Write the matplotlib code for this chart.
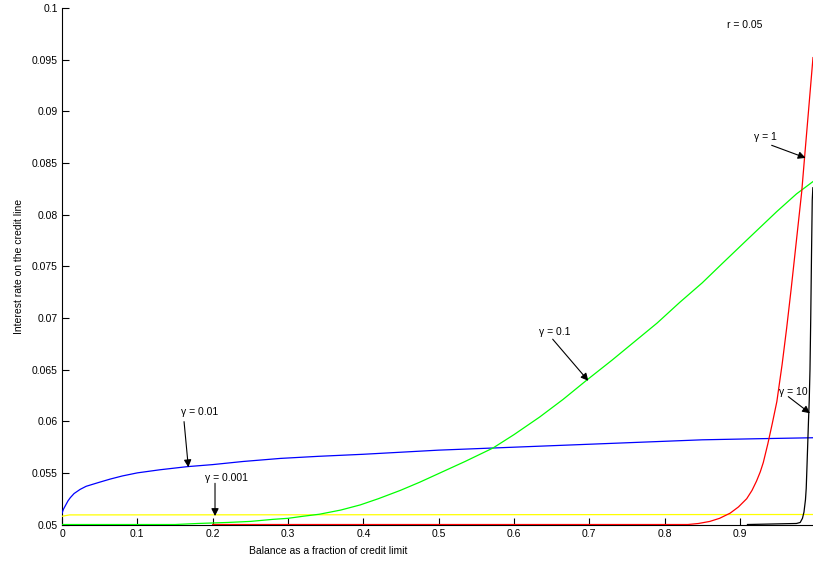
import numpy as np
import matplotlib.pyplot as plt

plt.rcParams['font.family'] = ['Liberation Sans', 'DejaVu Sans']

# --- Data (balance fraction -> interest rate) ---
yellow_x = [0.0, 0.01, 0.5, 0.997]
yellow_y = [0.0508, 0.05093, 0.05095, 0.05097]

# gamma = 0.01
blue_x = [0.0, 0.002, 0.005, 0.008, 0.011, 0.016, 0.024, 0.032, 0.041, 0.05,
          0.064, 0.08, 0.1, 0.13, 0.166, 0.2, 0.24, 0.29, 0.34, 0.4, 0.45,
          0.5, 0.57, 0.64, 0.71, 0.78, 0.85, 0.92, 0.997]
blue_y = [0.0511, 0.0515, 0.0519, 0.0523, 0.0526, 0.0530, 0.0534, 0.0537,
          0.0539, 0.0541, 0.0544, 0.0547, 0.0550, 0.0553, 0.0556, 0.0558,
          0.0561, 0.0564, 0.0566, 0.0568, 0.0570, 0.0572, 0.0574, 0.0576,
          0.0578, 0.0580, 0.0582, 0.0583, 0.0584]

# gamma = 0.1
green_x = [0.0, 0.15, 0.18, 0.22, 0.25, 0.28, 0.30, 0.32, 0.342, 0.37, 0.396,
           0.42, 0.449, 0.475, 0.502, 0.535, 0.572, 0.60, 0.634, 0.665, 0.697,
           0.73, 0.76, 0.79, 0.82, 0.85, 0.877, 0.91, 0.949, 0.975, 0.997]
green_y = [0.0500, 0.0500, 0.0501, 0.0502, 0.0503, 0.0505, 0.0506, 0.0508,
           0.0510, 0.0514, 0.0519, 0.0525, 0.0533, 0.0541, 0.0550, 0.0561,
           0.0574, 0.0587, 0.0604, 0.0621, 0.0640, 0.0659, 0.0677, 0.0695,
           0.0715, 0.0734, 0.0753, 0.0776, 0.0803, 0.0820, 0.0832]

# gamma = 1
red_x = [0.2, 0.831, 0.845, 0.86, 0.873, 0.887, 0.898, 0.909, 0.916, 0.922,
         0.927, 0.931, 0.937, 0.943, 0.949, 0.956, 0.962, 0.968, 0.975, 0.982,
         0.986, 0.991, 0.997]
red_y = [0.0500, 0.0500, 0.0501, 0.0503, 0.0506, 0.0511, 0.0517, 0.0525,
         0.0533, 0.0542, 0.0551, 0.0560, 0.0578, 0.0598, 0.0619, 0.0655,
         0.0690, 0.0728, 0.0775, 0.0822, 0.0857, 0.0900, 0.0952]

# gamma = 10
black_x = [0.91, 0.975, 0.98, 0.983, 0.985, 0.987, 0.988, 0.989, 0.990, 0.991,
           0.992, 0.993, 0.994, 0.995, 0.996, 0.9968]
black_y = [0.0500, 0.0501, 0.0502, 0.0506, 0.0512, 0.0524, 0.0535, 0.0556,
           0.0578, 0.0600, 0.0620, 0.0650, 0.0700, 0.0760, 0.0814, 0.0826]

x_ticks = [0.0, 0.1, 0.2, 0.3, 0.4, 0.5, 0.6, 0.7, 0.8, 0.9]
y_ticks = [0.05, 0.055, 0.06, 0.065, 0.07, 0.075, 0.08, 0.085, 0.09, 0.095, 0.1]

# label text, text position, arrow start, arrow tip
notes = [
    ('\u03b3 = 1',     (0.9333, 0.08755), (0.9421, 0.08671), (0.9872, 0.08549)),
    ('\u03b3 = 0.1',   (0.6544, 0.06865), (0.6514, 0.06794), (0.6987, 0.06391)),
    ('\u03b3 = 0.01',  (0.1825, 0.06093), (0.1620, 0.05996), (0.1677, 0.05554)),
    ('\u03b3 = 0.001', (0.2190, 0.05451), (0.2031, 0.05399), (0.2031, 0.05082)),
    ('\u03b3 = 10',    (0.9710, 0.06284), (0.9642, 0.06238), (0.9930, 0.06077)),
]

fig = plt.figure(figsize=(8.13, 5.64), dpi=100)
ax = fig.add_axes([0.0763, 0.070, 0.9237, 0.9158])

lw = 0.9
ax.plot(yellow_x, yellow_y, color='#ffff00', lw=lw, zorder=3)
ax.plot(blue_x, blue_y, color='#0000ff', lw=lw, zorder=3)
ax.plot(green_x, green_y, color='#00ff00', lw=lw, zorder=3)
ax.plot(red_x, red_y, color='#ff0000', lw=lw, zorder=3)
ax.plot(black_x, black_y, color='k', lw=lw, zorder=3)

ax.set_xlim(0, 0.997)
ax.set_ylim(0.05, 0.1)
ax.set_xticks(x_ticks)
ax.set_yticks(y_ticks)
ax.set_xticklabels(['%g' % v for v in x_ticks])
ax.set_yticklabels(['%g' % v for v in y_ticks])
ax.tick_params(direction='in', length=5, width=0.8, labelsize=7.5, pad=3)

for s in ['top', 'right']:
    ax.spines[s].set_visible(False)
for s in ['left', 'bottom']:
    ax.spines[s].set_linewidth(0.8)

ax.set_xlabel('Balance as a fraction of credit limit', fontsize=7.5, labelpad=2)
ax.xaxis.set_label_coords(0.354, -0.042)
ax.set_ylabel('Interest rate on the credit line', fontsize=7.5)
ax.yaxis.set_label_coords(-0.051, 0.5)

ax.text(0.8828, 0.09831, 'r = 0.05', fontsize=7.5, ha='left', va='center')

for label, txt, start, tip in notes:
    ax.text(txt[0], txt[1], label, fontsize=7.5, ha='center', va='center')
    ax.annotate('', xy=tip, xytext=start,
                arrowprops=dict(arrowstyle='-|>', color='k', lw=0.8,
                                mutation_scale=11, shrinkA=0, shrinkB=0))

fig.savefig('out.png', dpi=100)
plt.close(fig)
